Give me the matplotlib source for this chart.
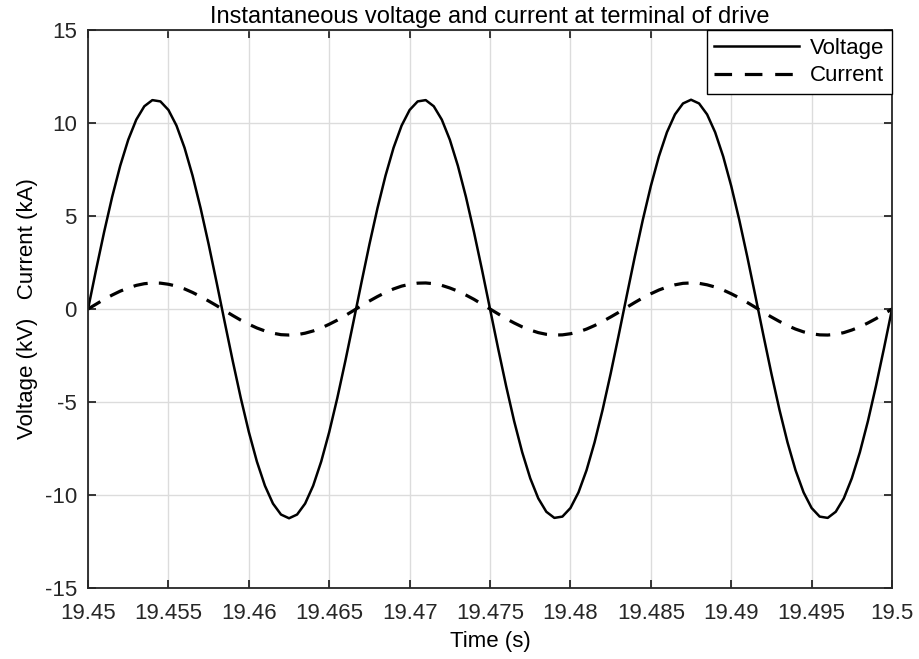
import numpy as np
import matplotlib
matplotlib.use("Agg")
import matplotlib.pyplot as plt

plt.rcParams['font.family'] = ['Liberation Sans', 'DejaVu Sans']
plt.rcParams['axes.unicode_minus'] = False

# time samples (s), step 0.0005 s
t_start = 19.45
t_step = 0.0005
n_pts = 101

voltage_kV = [
    0.00, 2.11, 4.14, 6.03, 7.70, 9.10, 10.18, 10.90, 11.23, 11.16,
    10.70, 9.86, 8.67, 7.17, 5.42, 3.48, 1.41, -0.71, -2.80, -4.79,
    -6.61, -8.20, -9.50, -10.46, -11.05, -11.25, -11.05, -10.46, -9.50, -8.20,
    -6.61, -4.79, -2.80, -0.71, 1.41, 3.48, 5.42, 7.17, 8.67, 9.86,
    10.70, 11.16, 11.23, 10.90, 10.18, 9.10, 7.70, 6.03, 4.14, 2.11,
    0.00, -2.11, -4.14, -6.03, -7.70, -9.10, -10.18, -10.90, -11.23, -11.16,
    -10.70, -9.86, -8.67, -7.17, -5.42, -3.48, -1.41, 0.71, 2.80, 4.79,
    6.61, 8.20, 9.50, 10.46, 11.05, 11.25, 11.05, 10.46, 9.50, 8.20,
    6.61, 4.79, 2.80, 0.71, -1.41, -3.48, -5.42, -7.17, -8.67, -9.86,
    -10.70, -11.16, -11.23, -10.90, -10.18, -9.10, -7.70, -6.03, -4.14, -2.11,
    0.00,
]

current_kA = [
    0.00, 0.26, 0.52, 0.75, 0.96, 1.13, 1.27, 1.36, 1.40, 1.39,
    1.33, 1.23, 1.08, 0.89, 0.67, 0.43, 0.18, -0.09, -0.35, -0.60,
    -0.82, -1.02, -1.18, -1.30, -1.38, -1.40, -1.38, -1.30, -1.18, -1.02,
    -0.82, -0.60, -0.35, -0.09, 0.18, 0.43, 0.67, 0.89, 1.08, 1.23,
    1.33, 1.39, 1.40, 1.36, 1.27, 1.13, 0.96, 0.75, 0.52, 0.26,
    0.00, -0.26, -0.52, -0.75, -0.96, -1.13, -1.27, -1.36, -1.40, -1.39,
    -1.33, -1.23, -1.08, -0.89, -0.67, -0.43, -0.18, 0.09, 0.35, 0.60,
    0.82, 1.02, 1.18, 1.30, 1.38, 1.40, 1.38, 1.30, 1.18, 1.02,
    0.82, 0.60, 0.35, 0.09, -0.18, -0.43, -0.67, -0.89, -1.08, -1.23,
    -1.33, -1.39, -1.40, -1.36, -1.27, -1.13, -0.96, -0.75, -0.52, -0.26,
    0.00,
]

x_ticks = [19.45, 19.455, 19.46, 19.465, 19.47, 19.475, 19.48, 19.485, 19.49, 19.495, 19.5]
x_tick_labels = ['19.45', '19.455', '19.46', '19.465', '19.47', '19.475', '19.48',
                 '19.485', '19.49', '19.495', '19.5']
y_ticks = [-15, -10, -5, 0, 5, 10, 15]

time_s = t_start + t_step * np.arange(n_pts)

fig = plt.figure(figsize=(9.2, 6.59), dpi=100)
ax = fig.add_axes([0.0957, 0.1077, 0.8739, 0.8468])

ax.plot(time_s, voltage_kV, color='black', lw=1.8, label='Voltage')
ax.plot(time_s, current_kA, color='black', lw=2.3, ls=(0, (4.5, 3.5)), label='Current')

ax.set_xlim(19.45, 19.5)
ax.set_ylim(-15, 15)
ax.set_xticks(x_ticks)
ax.set_xticklabels(x_tick_labels)
ax.set_yticks(y_ticks)
ax.grid(True, color='#dcdcdc', lw=1.0)
ax.set_axisbelow(True)

for sp in ax.spines.values():
    sp.set_color('#262626')
    sp.set_linewidth(1.3)
ax.tick_params(direction='in', length=6, width=1.3, colors='#262626',
               labelsize=16, top=True, right=True)
ax.tick_params(axis='x', pad=11)
ax.tick_params(axis='y', pad=8)
for lab in ax.get_xticklabels() + ax.get_yticklabels():
    lab.set_color('#262626')

ax.set_title('Instantaneous voltage and current at terminal of drive', fontsize=17, pad=5)
ax.set_xlabel('Time (s)', fontsize=16, labelpad=5)
ax.set_ylabel('Voltage (kV)   Current (kA)', fontsize=16, labelpad=5)

leg = ax.legend(loc='upper right', fontsize=16, frameon=True, fancybox=False,
                edgecolor='black', framealpha=1, borderaxespad=0, handlelength=3.8,
                handletextpad=0.5, borderpad=0.35, labelspacing=0.3)
leg.get_frame().set_linewidth(1.0)
leg.get_lines()[1].set_dashes((5.5, 4))

fig.savefig('out.png', dpi=100)
